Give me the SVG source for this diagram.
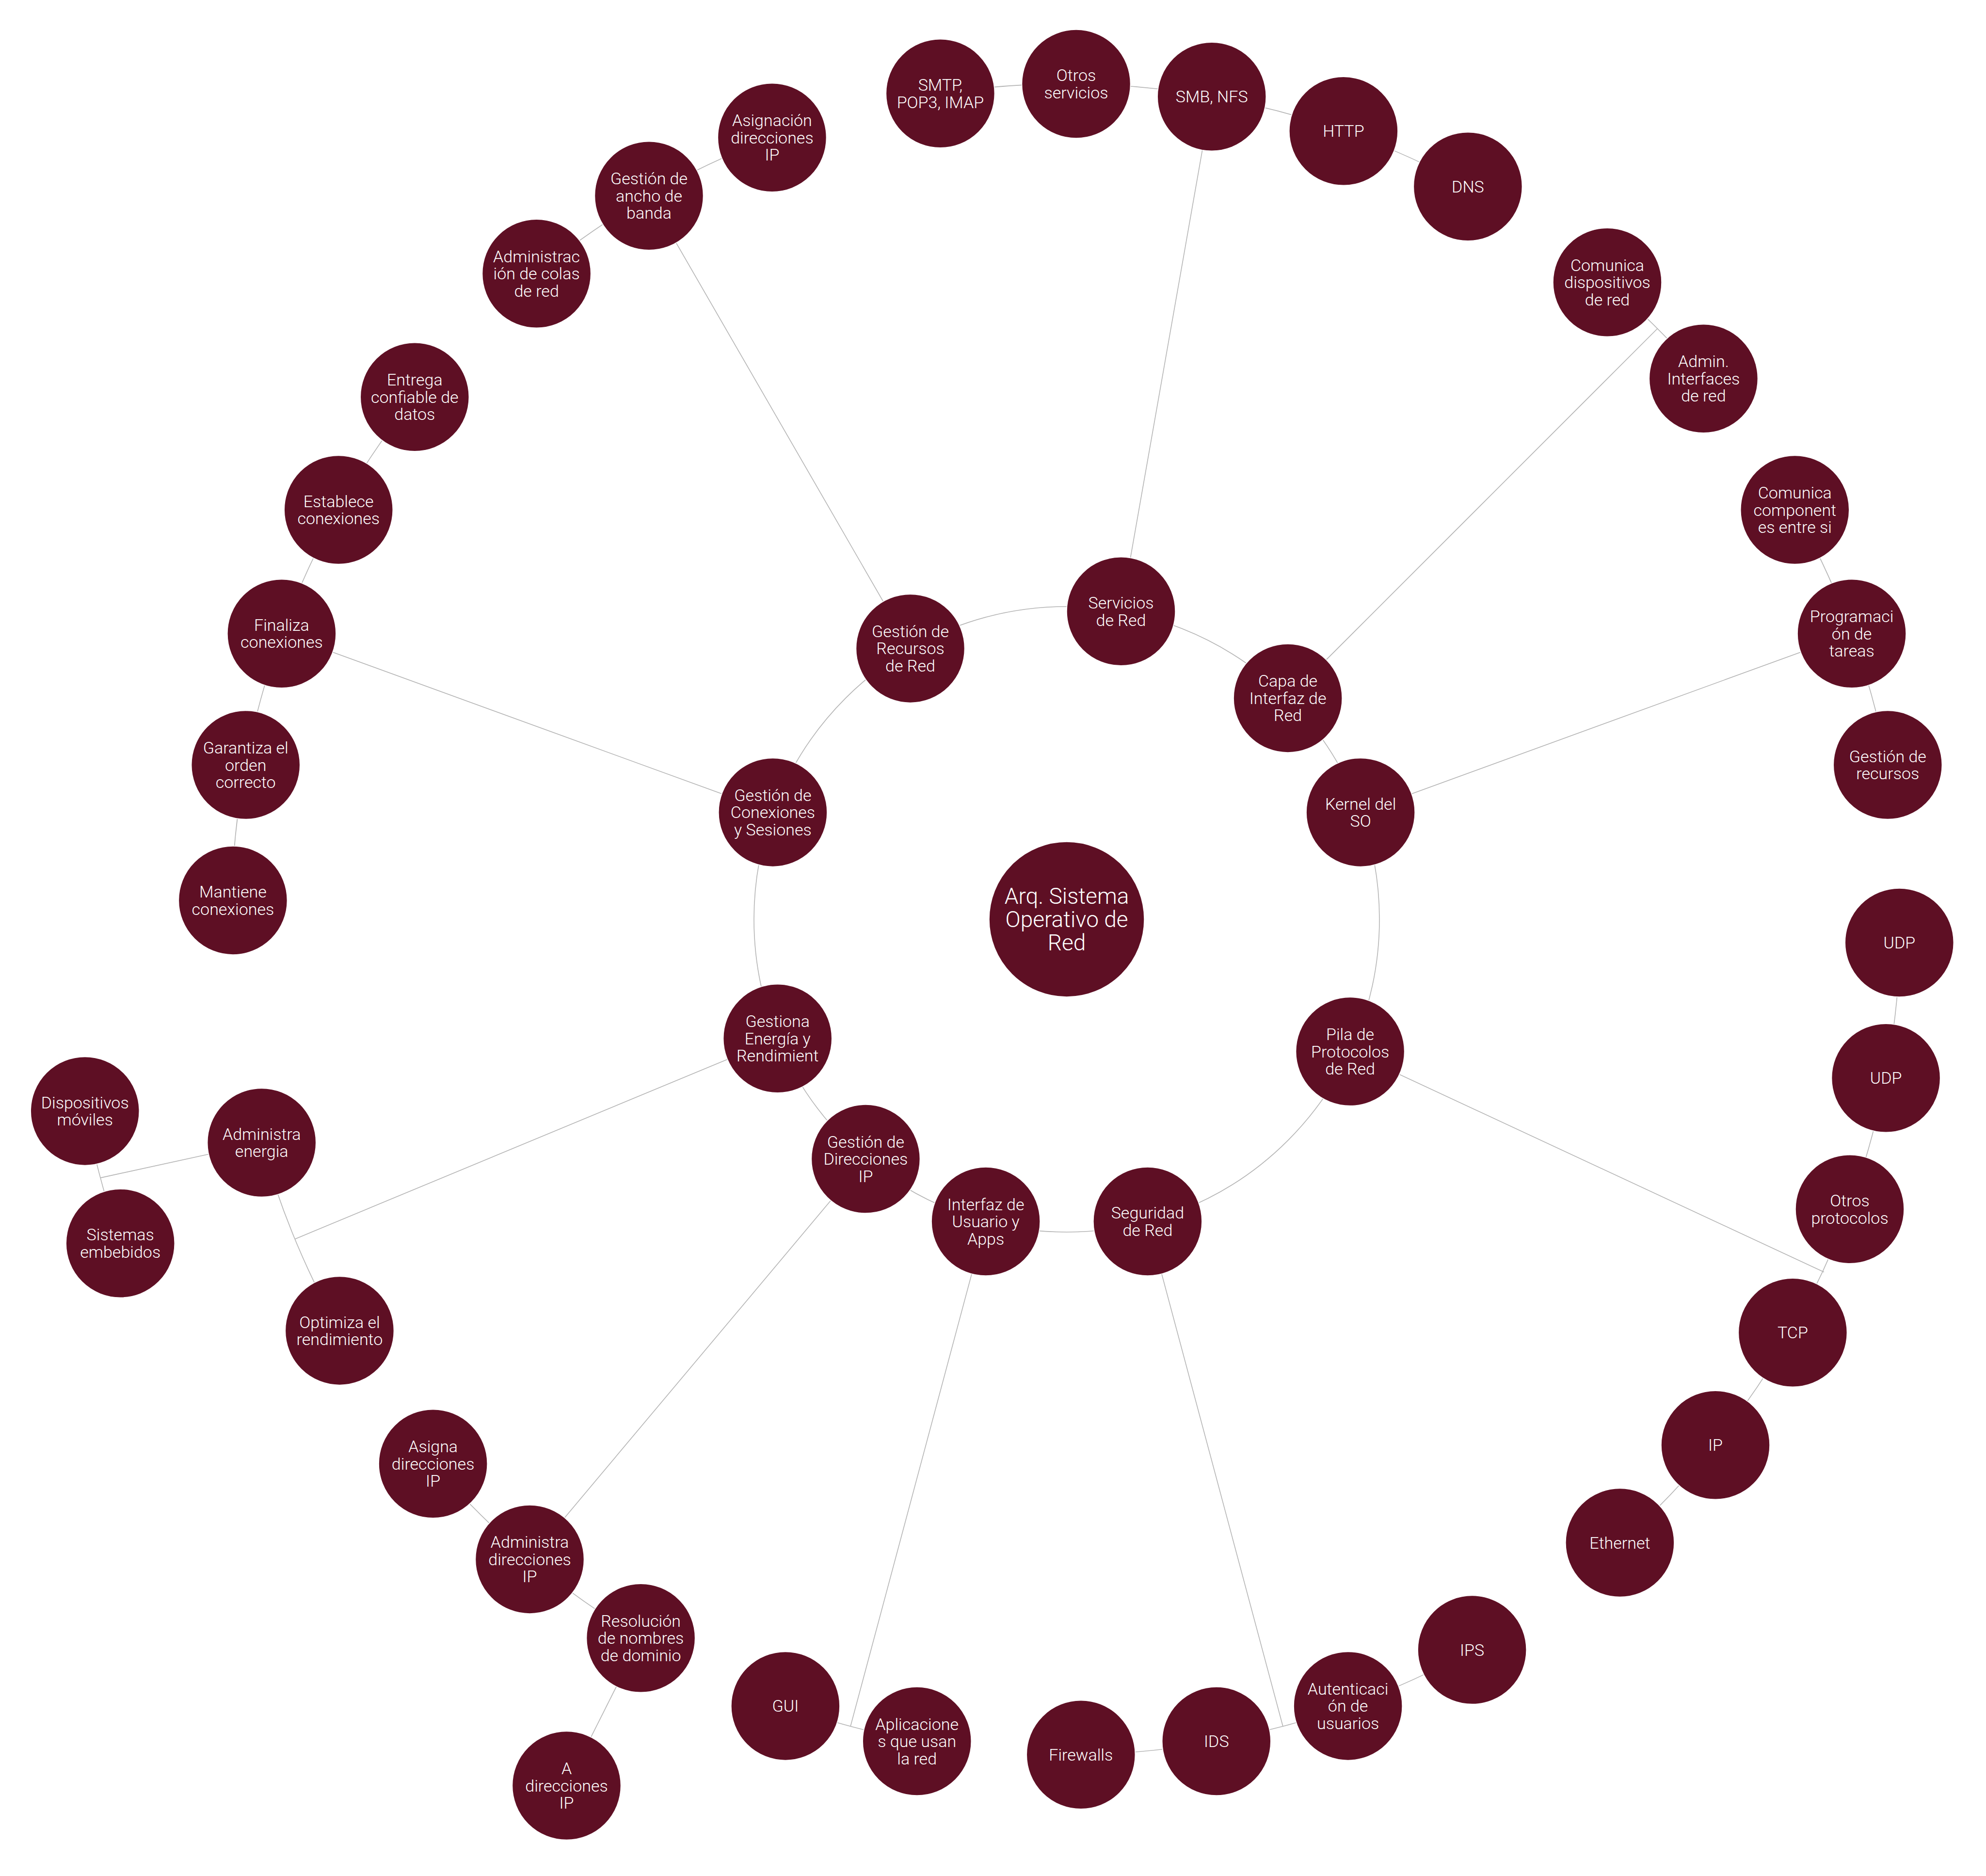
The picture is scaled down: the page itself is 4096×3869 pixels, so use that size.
<svg xmlns="http://www.w3.org/2000/svg" width="4096" height="3869" viewBox="0 0 4096 3869">
<style>
.bg{fill:#ffffff}
.link{fill:none;stroke:#b4b4b4;stroke-width:1.6}
.node circle{fill:#5e0f24;stroke:#ffffff;stroke-width:1.5}
.node text{font-family:Roboto,"Liberation Sans",sans-serif;font-weight:300;font-size:34px;fill:#ffffff;text-anchor:middle}
.root text{font-size:46px}
</style>
<rect class="bg" x="0" y="0" width="4096" height="3869"/>
<g id="connectors">
<circle class="link" cx="2200" cy="1896" r="645"/>
<path class="link" d="M2312.0 1260.8 L2499.2 199.2 M1939.4 192.8 A1723 1723 0 0 1 3027.4 384.7"/>
<path class="link" d="M2656.1 1439.9 L3418.3 677.7 M3315.0 582.3 A1723 1723 0 0 1 3513.4 780.8"/>
<path class="link" d="M2806.1 1675.4 L3819.1 1306.7 M3701.8 1051.5 A1723 1723 0 0 1 3893.3 1577.6"/>
<path class="link" d="M2784.6 2168.6 L3761.9 2623.5 M3919.3 1944.0 A1720 1720 0 0 1 3342.9 3181.4"/>
<path class="link" d="M2366.9 2519.0 L2645.9 3560.3 M3036.1 3402.6 A1723 1723 0 0 1 2229.3 3618.8"/>
<path class="link" d="M2033.1 2519.0 L1754.1 3560.3 M1891.2 3591.1 A1723 1723 0 0 1 1619.9 3518.4"/>
<path class="link" d="M1785.4 2390.1 L1092.5 3215.9 M1321.6 3378.3 A1723 1723 0 0 1 893.1 3018.8"/>
<path class="link" d="M1603.7 2141.8 L608.1 2555.4 M700.4 2744.4 A1723 1723 0 0 1 539.7 2356.5"/>
<path class="link" d="M1593.9 1675.4 L580.9 1306.7 M477.4 1856.9 A1723 1723 0 0 1 855.3 818.7"/>
<path class="link" d="M1877.5 1337.4 L1338.5 403.8 M1106.6 564.3 A1723 1723 0 0 1 1592.4 283.7"/>
<path class="link" d="M539.7 2356.5 L207.1 2429.1 M248.2 2564.2 A2063 2063 0 0 1 175.2 2291.4"/>
<path class="link" d="M1321.6 3378.3 L1168.5 3682.6"/>
</g>
<g id="root" class="node root" transform="translate(2200,1896)"><circle r="160"/><text><tspan x="0" y="-32">Arq. Sistema</tspan><tspan x="0" y="16">Operativo de</tspan><tspan x="0" y="64">Red</tspan></text></g>
<g id="servicios-red" class="node" transform="translate(2312.0,1260.8)"><circle r="112"/><text><tspan x="0" y="-5.8">Servicios</tspan><tspan x="0" y="29.7">de Red</tspan></text></g>
<g id="capa-interfaz" class="node" transform="translate(2656.1,1439.9)"><circle r="112"/><text><tspan x="0" y="-23.5">Capa de</tspan><tspan x="0" y="12">Interfaz de</tspan><tspan x="0" y="47.5">Red</tspan></text></g>
<g id="kernel" class="node" transform="translate(2806.1,1675.4)"><circle r="112"/><text><tspan x="0" y="-5.8">Kernel del</tspan><tspan x="0" y="29.7">SO</tspan></text></g>
<g id="pila-protocolos" class="node" transform="translate(2784.6,2168.6)"><circle r="112"/><text><tspan x="0" y="-23.5">Pila de</tspan><tspan x="0" y="12">Protocolos</tspan><tspan x="0" y="47.5">de Red</tspan></text></g>
<g id="seguridad" class="node" transform="translate(2366.9,2519.0)"><circle r="112"/><text><tspan x="0" y="-5.8">Seguridad</tspan><tspan x="0" y="29.7">de Red</tspan></text></g>
<g id="interfaz-usuario" class="node" transform="translate(2033.1,2519.0)"><circle r="112"/><text><tspan x="0" y="-23.5">Interfaz de</tspan><tspan x="0" y="12">Usuario y</tspan><tspan x="0" y="47.5">Apps</tspan></text></g>
<g id="gestion-direcciones" class="node" transform="translate(1785.4,2390.1)"><circle r="112"/><text><tspan x="0" y="-23.5">Gestión de</tspan><tspan x="0" y="12">Direcciones</tspan><tspan x="0" y="47.5">IP</tspan></text></g>
<g id="gestiona-energia" class="node" transform="translate(1603.7,2141.8)"><circle r="112"/><text><tspan x="0" y="-23.5">Gestiona</tspan><tspan x="0" y="12">Energía y</tspan><tspan x="0" y="47.5">Rendimient</tspan></text></g>
<g id="gestion-conexiones" class="node" transform="translate(1593.9,1675.4)"><circle r="112"/><text><tspan x="0" y="-23.5">Gestión de</tspan><tspan x="0" y="12">Conexiones</tspan><tspan x="0" y="47.5">y Sesiones</tspan></text></g>
<g id="gestion-recursos-red" class="node" transform="translate(1877.5,1337.4)"><circle r="112"/><text><tspan x="0" y="-23.5">Gestión de</tspan><tspan x="0" y="12">Recursos</tspan><tspan x="0" y="47.5">de Red</tspan></text></g>
<g id="smtp" class="node" transform="translate(1939.4,192.8)"><circle r="112"/><text><tspan x="0" y="-5.8">SMTP,</tspan><tspan x="0" y="29.7">POP3, IMAP</tspan></text></g>
<g id="otros-servicios" class="node" transform="translate(2219.5,173.1)"><circle r="112"/><text><tspan x="0" y="-5.8">Otros</tspan><tspan x="0" y="29.7">servicios</tspan></text></g>
<g id="smb-nfs" class="node" transform="translate(2499.2,199.2)"><circle r="112"/><text><tspan x="0" y="12">SMB, NFS</tspan></text></g>
<g id="http" class="node" transform="translate(2770.9,270.3)"><circle r="112"/><text><tspan x="0" y="12">HTTP</tspan></text></g>
<g id="dns" class="node" transform="translate(3027.4,384.7)"><circle r="112"/><text><tspan x="0" y="12">DNS</tspan></text></g>
<g id="comunica-dispositivos" class="node" transform="translate(3315.0,582.3)"><circle r="112"/><text><tspan x="0" y="-23.5">Comunica</tspan><tspan x="0" y="12">dispositivos</tspan><tspan x="0" y="47.5">de red</tspan></text></g>
<g id="admin-interfaces" class="node" transform="translate(3513.4,780.8)"><circle r="112"/><text><tspan x="0" y="-23.5">Admin.</tspan><tspan x="0" y="12">Interfaces</tspan><tspan x="0" y="47.5">de red</tspan></text></g>
<g id="comunica-componentes" class="node" transform="translate(3701.8,1051.5)"><circle r="112"/><text><tspan x="0" y="-23.5">Comunica</tspan><tspan x="0" y="12">component</tspan><tspan x="0" y="47.5">es entre si</tspan></text></g>
<g id="programacion-tareas" class="node" transform="translate(3819.1,1306.7)"><circle r="112"/><text><tspan x="0" y="-23.5">Programaci</tspan><tspan x="0" y="12">ón de</tspan><tspan x="0" y="47.5">tareas</tspan></text></g>
<g id="gestion-recursos" class="node" transform="translate(3893.3,1577.6)"><circle r="112"/><text><tspan x="0" y="-5.8">Gestión de</tspan><tspan x="0" y="29.7">recursos</tspan></text></g>
<g id="udp-1" class="node" transform="translate(3917.3,1944.0)"><circle r="112"/><text><tspan x="0" y="12">UDP</tspan></text></g>
<g id="udp-2" class="node" transform="translate(3889.6,2223.3)"><circle r="112"/><text><tspan x="0" y="12">UDP</tspan></text></g>
<g id="otros-protocolos" class="node" transform="translate(3815.0,2493.8)"><circle r="112"/><text><tspan x="0" y="-5.8">Otros</tspan><tspan x="0" y="29.7">protocolos</tspan></text></g>
<g id="tcp" class="node" transform="translate(3697.4,2748.3)"><circle r="112"/><text><tspan x="0" y="12">TCP</tspan></text></g>
<g id="ip" class="node" transform="translate(3538.0,2980.3)"><circle r="112"/><text><tspan x="0" y="12">IP</tspan></text></g>
<g id="ethernet" class="node" transform="translate(3340.9,3181.6)"><circle r="112"/><text><tspan x="0" y="12">Ethernet</tspan></text></g>
<g id="ips" class="node" transform="translate(3036.1,3402.6)"><circle r="112"/><text><tspan x="0" y="12">IPS</tspan></text></g>
<g id="autenticacion" class="node" transform="translate(2780.1,3518.4)"><circle r="112"/><text><tspan x="0" y="-23.5">Autenticaci</tspan><tspan x="0" y="12">ón de</tspan><tspan x="0" y="47.5">usuarios</tspan></text></g>
<g id="ids" class="node" transform="translate(2508.8,3591.1)"><circle r="112"/><text><tspan x="0" y="12">IDS</tspan></text></g>
<g id="firewalls" class="node" transform="translate(2229.3,3618.8)"><circle r="112"/><text><tspan x="0" y="12">Firewalls</tspan></text></g>
<g id="aplicaciones" class="node" transform="translate(1891.2,3591.1)"><circle r="112"/><text><tspan x="0" y="-23.5">Aplicacione</tspan><tspan x="0" y="12">s que usan</tspan><tspan x="0" y="47.5">la red</tspan></text></g>
<g id="gui" class="node" transform="translate(1619.9,3518.4)"><circle r="112"/><text><tspan x="0" y="12">GUI</tspan></text></g>
<g id="resolucion-nombres" class="node" transform="translate(1321.6,3378.3)"><circle r="112"/><text><tspan x="0" y="-23.5">Resolución</tspan><tspan x="0" y="12">de nombres</tspan><tspan x="0" y="47.5">de dominio</tspan></text></g>
<g id="administra-direcciones" class="node" transform="translate(1092.5,3215.9)"><circle r="112"/><text><tspan x="0" y="-23.5">Administra</tspan><tspan x="0" y="12">direcciones</tspan><tspan x="0" y="47.5">IP</tspan></text></g>
<g id="asigna-direcciones" class="node" transform="translate(893.1,3018.8)"><circle r="112"/><text><tspan x="0" y="-23.5">Asigna</tspan><tspan x="0" y="12">direcciones</tspan><tspan x="0" y="47.5">IP</tspan></text></g>
<g id="optimiza" class="node" transform="translate(700.4,2744.4)"><circle r="112"/><text><tspan x="0" y="-5.8">Optimiza el</tspan><tspan x="0" y="29.7">rendimiento</tspan></text></g>
<g id="administra-energia" class="node" transform="translate(539.7,2356.5)"><circle r="112"/><text><tspan x="0" y="-5.8">Administra</tspan><tspan x="0" y="29.7">energia</tspan></text></g>
<g id="mantiene" class="node" transform="translate(480.4,1856.9)"><circle r="112"/><text><tspan x="0" y="-5.8">Mantiene</tspan><tspan x="0" y="29.7">conexiones</tspan></text></g>
<g id="garantiza" class="node" transform="translate(506.7,1577.6)"><circle r="112"/><text><tspan x="0" y="-23.5">Garantiza el</tspan><tspan x="0" y="12">orden</tspan><tspan x="0" y="47.5">correcto</tspan></text></g>
<g id="finaliza" class="node" transform="translate(580.9,1306.7)"><circle r="112"/><text><tspan x="0" y="-5.8">Finaliza</tspan><tspan x="0" y="29.7">conexiones</tspan></text></g>
<g id="establece" class="node" transform="translate(698.2,1051.5)"><circle r="112"/><text><tspan x="0" y="-5.8">Establece</tspan><tspan x="0" y="29.7">conexiones</tspan></text></g>
<g id="entrega" class="node" transform="translate(855.3,818.7)"><circle r="112"/><text><tspan x="0" y="-23.5">Entrega</tspan><tspan x="0" y="12">confiable de</tspan><tspan x="0" y="47.5">datos</tspan></text></g>
<g id="administracion-colas" class="node" transform="translate(1106.6,564.3)"><circle r="112"/><text><tspan x="0" y="-23.5">Administrac</tspan><tspan x="0" y="12">ión de colas</tspan><tspan x="0" y="47.5">de red</tspan></text></g>
<g id="gestion-ancho-banda" class="node" transform="translate(1338.5,403.8)"><circle r="112"/><text><tspan x="0" y="-23.5">Gestión de</tspan><tspan x="0" y="12">ancho de</tspan><tspan x="0" y="47.5">banda</tspan></text></g>
<g id="asignacion-direcciones" class="node" transform="translate(1592.4,283.7)"><circle r="112"/><text><tspan x="0" y="-23.5">Asignación</tspan><tspan x="0" y="12">direcciones</tspan><tspan x="0" y="47.5">IP</tspan></text></g>
<g id="sistemas-embebidos" class="node" transform="translate(248.2,2564.2)"><circle r="112"/><text><tspan x="0" y="-5.8">Sistemas</tspan><tspan x="0" y="29.7">embebidos</tspan></text></g>
<g id="dispositivos-moviles" class="node" transform="translate(175.2,2291.4)"><circle r="112"/><text><tspan x="0" y="-5.8">Dispositivos</tspan><tspan x="0" y="29.7">móviles</tspan></text></g>
<g id="a-direcciones" class="node" transform="translate(1168.5,3682.6)"><circle r="112"/><text><tspan x="0" y="-23.5">A</tspan><tspan x="0" y="12">direcciones</tspan><tspan x="0" y="47.5">IP</tspan></text></g>
</svg>
